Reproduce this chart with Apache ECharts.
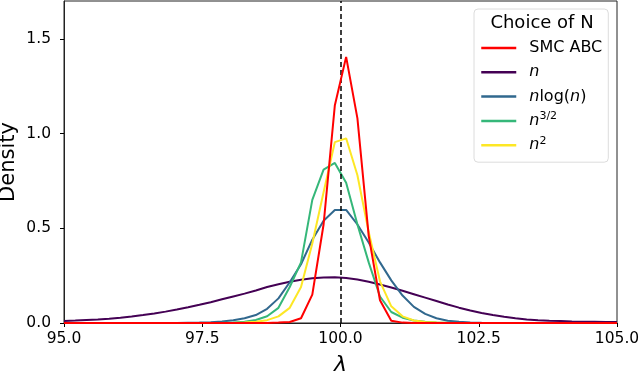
<!DOCTYPE html>
<html>
<head>
<meta charset="utf-8">
<script src="https://cdn.jsdelivr.net/npm/echarts@6/dist/echarts.min.js"></script>
<style>
  html, body { margin: 0; padding: 0; background: #fff; }
  #chart { width: 640px; height: 374px; }
</style>
</head>
<body>
<div id="chart"></div>
<script>
// sampling grid of lambda (50 points between 95 and 105)
var lambdaGrid = [
  95.000, 95.204, 95.408, 95.612, 95.816, 96.020, 96.224, 96.429, 96.633, 96.837,
  97.041, 97.245, 97.449, 97.653, 97.857, 98.061, 98.265, 98.469, 98.673, 98.878,
  99.082, 99.286, 99.490, 99.694, 99.898, 100.102, 100.306, 100.510, 100.714, 100.918,
  101.122, 101.327, 101.531, 101.735, 101.939, 102.143, 102.347, 102.551, 102.755, 102.959,
  103.163, 103.367, 103.571, 103.776, 103.980, 104.184, 104.388, 104.592, 104.796, 105.000
];

// densities
var smcAbc = [
  0, 0, 0, 0, 0, 0, 0, 0, 0, 0,
  0, 0, 0, 0, 0, 0, 0, 0, 0, 0.002,
  0.005, 0.025, 0.15, 0.52, 1.15, 1.405, 1.08, 0.46, 0.12, 0.012,
  0.002, 0, 0, 0, 0, 0, 0, 0, 0, 0,
  0, 0, 0, 0, 0, 0, 0, 0, 0, 0
];
var nLin = [
  0.011, 0.013, 0.016, 0.019, 0.023, 0.028, 0.034, 0.042, 0.050, 0.060,
  0.071, 0.083, 0.096, 0.110, 0.125, 0.140, 0.155, 0.172, 0.190, 0.205,
  0.218, 0.228, 0.236, 0.240, 0.241, 0.238, 0.230, 0.218, 0.203, 0.187,
  0.170, 0.152, 0.134, 0.116, 0.098, 0.081, 0.066, 0.053, 0.042, 0.033,
  0.025, 0.019, 0.015, 0.012, 0.010, 0.008, 0.007, 0.006, 0.005, 0.005
];
var nLogN = [
  0, 0, 0, 0, 0, 0, 0, 0, 0, 0,
  0, 0.001, 0.002, 0.004, 0.008, 0.014, 0.025, 0.042, 0.075, 0.13,
  0.215, 0.31, 0.44, 0.54, 0.597, 0.597, 0.52, 0.425, 0.32, 0.225,
  0.145, 0.085, 0.048, 0.025, 0.012, 0.006, 0.003, 0.001, 0, 0,
  0, 0, 0, 0, 0, 0, 0, 0, 0, 0
];
var nPow32 = [
  0, 0, 0, 0, 0, 0, 0, 0, 0, 0,
  0, 0, 0, 0, 0.001, 0.003, 0.007, 0.016, 0.036, 0.08,
  0.19, 0.32, 0.65, 0.81, 0.845, 0.74, 0.52, 0.32, 0.14, 0.058,
  0.028, 0.013, 0.006, 0.002, 0.001, 0, 0, 0, 0, 0,
  0, 0, 0, 0, 0, 0, 0, 0, 0, 0
];
var nPow2 = [
  0, 0, 0, 0, 0, 0, 0, 0, 0, 0,
  0, 0, 0, 0, 0, 0, 0.002, 0.006, 0.015, 0.035,
  0.08, 0.19, 0.42, 0.69, 0.955, 0.975, 0.78, 0.48, 0.22, 0.088,
  0.035, 0.013, 0.005, 0.002, 0, 0, 0, 0, 0, 0,
  0, 0, 0, 0, 0, 0, 0, 0, 0, 0
];

var trueLambda = 100;
var xTicks = [95, 97.5, 100, 102.5, 105];
var yTicks = [0, 0.5, 1.0, 1.5];

var seriesNames = ['SMC ABC', 'n', 'nlog(n)', 'n^3/2', 'n^2'];
var seriesData = [smcAbc, nLin, nLogN, nPow32, nPow2];
var seriesColors = ['#ff0000', '#440154', '#31688e', '#35b779', '#fde725'];
var seriesZ = [7, 2, 3, 4, 5];

// legend labels with the maths bits
var legendRich = {
  'SMC ABC': 'SMC ABC',
  'n': '{i|n}',
  'nlog(n)': '{i|n}log({i|n})',
  'n^3/2': '{i|n}{sup|3/2}',
  'n^2': '{i|n}{sup|2}'
};

var font = 'DejaVu Sans';

function pairs(arr) {
  return lambdaGrid.map(function (x, i) { return [x, arr[i]]; });
}

var series = seriesNames.map(function (name, i) {
  return {
    name: name,
    type: 'line',
    data: pairs(seriesData[i]),
    symbol: 'none',
    z: seriesZ[i],
    color: seriesColors[i],
    lineStyle: { width: 2, color: seriesColors[i] }
  };
});

// dashed marker at the true value
series.push({
  name: 'truth',
  type: 'line',
  data: [],
  z: 10,
  markLine: {
    silent: true,
    symbol: 'none',
    label: { show: false },
    lineStyle: { color: '#000', type: [5, 3], width: 1.5 },
    data: [{ xAxis: trueLambda }]
  }
});

var chart = echarts.init(document.getElementById('chart'));
chart.setOption({
  animation: false,
  backgroundColor: '#fff',
  textStyle: { fontFamily: font },
  grid: {
    left: 64, right: 23, top: 1, bottom: 51,
    outerBoundsMode: 'none',
    containLabel: false,
    show: true, borderColor: '#222', borderWidth: 1
  },
  xAxis: {
    type: 'value',
    min: 95, max: 105, interval: 2.5,
    name: 'λ',
    nameLocation: 'middle',
    nameGap: 31,
    nameTextStyle: { fontFamily: font, fontSize: 22, fontStyle: 'italic', color: '#000' },
    axisLine: { lineStyle: { color: '#222', width: 1 } },
    axisTick: { show: true, length: 4, lineStyle: { color: '#000' }, customValues: xTicks },
    axisLabel: {
      fontFamily: font, fontSize: 15.5, color: '#000', margin: 8,
      customValues: xTicks,
      formatter: function (v) { return v.toFixed(1); }
    },
    splitLine: { show: false }
  },
  yAxis: {
    type: 'value',
    min: 0, max: 1.7, interval: 0.5,
    name: 'Density',
    nameLocation: 'middle',
    nameGap: 45,
    nameMoveOverlap: false,
    nameTextStyle: { fontFamily: font, fontSize: 21, color: '#000' },
    axisLine: { show: true, lineStyle: { color: '#222', width: 1 } },
    axisTick: { show: true, length: 4, lineStyle: { color: '#000' }, customValues: yTicks },
    axisLabel: {
      fontFamily: font, fontSize: 15.5, color: '#000', margin: 13,
      customValues: yTicks,
      formatter: function (v) { return v.toFixed(1); }
    },
    splitLine: { show: false }
  },
  legend: {
    data: seriesNames,
    orient: 'vertical',
    left: 474,
    top: 9,
    padding: [29, 6, 7, 6],
    itemWidth: 35,
    itemHeight: 14,
    itemGap: 4.3,
    itemStyle: { opacity: 0 },
    lineStyle: { width: 2.5 },
    backgroundColor: 'rgba(255,255,255,0.8)',
    borderColor: '#dcdcdc',
    borderWidth: 1,
    borderRadius: 4,
    formatter: function (name) { return legendRich[name]; },
    textStyle: {
      fontFamily: font, fontSize: 16, color: '#000', lineHeight: 20,
      padding: [0, 0, 0, 8],
      rich: {
        i: { fontFamily: font, fontSize: 16, fontStyle: 'italic', lineHeight: 20 },
        sup: { fontFamily: font, fontSize: 11, verticalAlign: 'top', lineHeight: 9 }
      }
    }
  },
  graphic: [{
    type: 'text',
    z: 100,
    x: 542,
    y: 23,
    style: {
      text: 'Choice of N',
      fontFamily: font,
      fontSize: 18,
      fill: '#000',
      align: 'center',
      verticalAlign: 'middle'
    }
  }],
  series: series
});
</script>
</body>
</html>
